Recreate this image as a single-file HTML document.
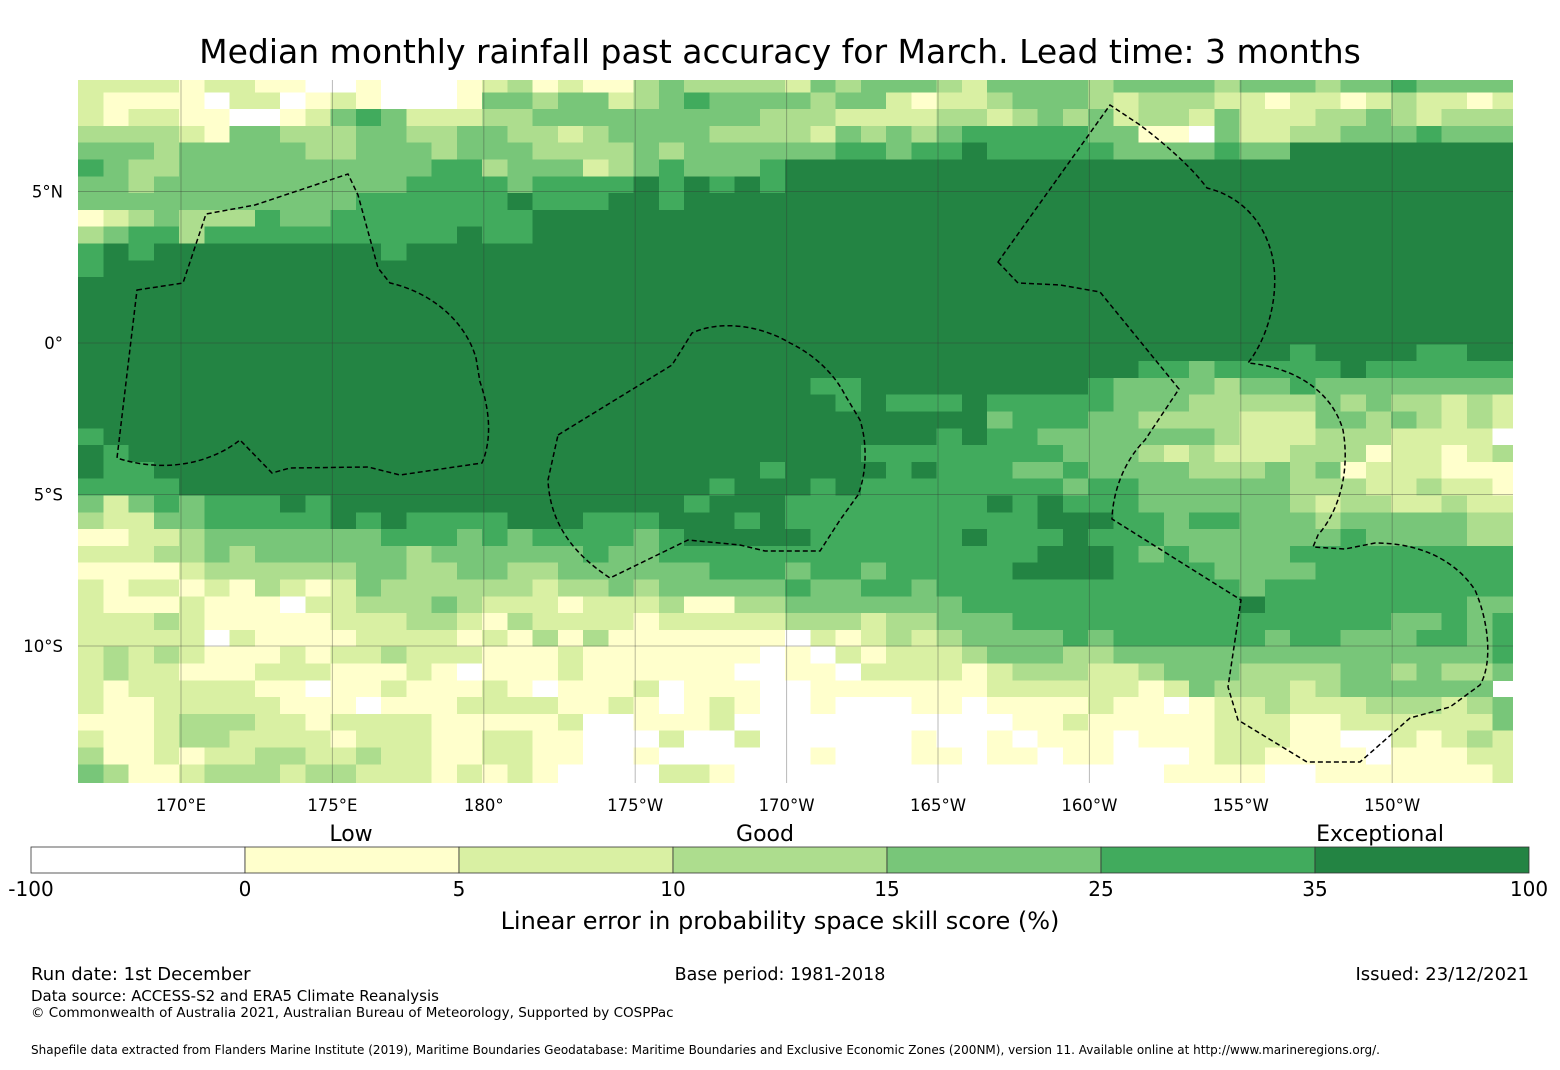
<!DOCTYPE html>
<html><head><meta charset="utf-8">
<style>
body{margin:0;background:#fff;width:1560px;height:1065px;overflow:hidden;font-family:"Liberation Sans","DejaVu Sans",sans-serif;}
svg text{font-family:"DejaVu Sans","Liberation Sans",sans-serif;}
</style></head>
<body>
<svg id="fig" width="1560" height="1065" viewBox="0 0 1560 1065" xmlns="http://www.w3.org/2000/svg">
<defs><clipPath id="mapclip"><rect x="78" y="80" width="1435" height="703"/></clipPath></defs>
<text x="780" y="63" text-anchor="middle" font-size="33" fill="#000">Median monthly rainfall past accuracy for March. Lead time: 3 months</text>
<g id="cells" clip-path="url(#mapclip)" shape-rendering="crispEdges"></g>
<g id="grid" clip-path="url(#mapclip)"></g>
<g id="eez" clip-path="url(#mapclip)" fill="none" stroke="#000" stroke-width="1.5" stroke-dasharray="5,3">
<path d="M137,290 L183,283 L206,214 L255,205 L348,174 L358,195 L378,268 L390,283 C430,292 465,320 476,358 L480,382 C490,410 492,440 482,463 L400,475 L368,467 L290,468 L272,473 L240,440 C215,460 170,475 117,458 Z"/>
<path d="M558,435 L672,365 L692,333 C720,320 760,325 790,343 C815,355 835,375 845,395 L860,420 C868,445 866,475 858,495 L840,520 L820,551 L765,551 L740,545 L688,540 L610,578 C575,555 550,525 548,480 Z"/>
<path d="M998,262 L1018,283 L1060,285 L1100,292 L1179,389 L1145,440 C1125,460 1113,490 1112,519 L1241,600 L1228,687 L1238,720 L1307,762 L1360,762 L1410,718 L1450,707 L1480,685 C1492,665 1490,625 1475,590 C1455,560 1420,543 1375,543 L1345,549 L1313,547 L1318,535 C1340,510 1350,470 1343,430 C1333,395 1300,368 1248,363 C1270,335 1280,290 1272,255 C1262,215 1235,195 1207,188 C1190,165 1160,140 1140,125 L1110,105 Z"/>
</g>
<g id="ticks" font-size="16.5" fill="#000"></g>
<g id="cbar"></g>
<text x="351" y="841" text-anchor="middle" font-size="22">Low</text>
<text x="765" y="841" text-anchor="middle" font-size="22">Good</text>
<text x="1380" y="841" text-anchor="middle" font-size="22">Exceptional</text>
<text x="780" y="929" text-anchor="middle" font-size="24">Linear error in probability space skill score (%)</text>
<text x="31" y="980" font-size="18">Run date: 1st December</text>
<text x="780" y="980" text-anchor="middle" font-size="17.5">Base period: 1981-2018</text>
<text x="1529" y="980" text-anchor="end" font-size="18">Issued: 23/12/2021</text>
<text x="31" y="1001" font-size="15">Data source: ACCESS-S2 and ERA5 Climate Reanalysis</text>
<text x="31" y="1017" font-size="13.5">© Commonwealth of Australia 2021, Australian Bureau of Meteorology, Supported by COSPPac</text>
<text x="31" y="1054" font-size="12">Shapefile data extracted from Flanders Marine Institute (2019), Maritime Boundaries Geodatabase: Maritime Boundaries and Exclusive Economic Zones (200NM), version 11. Available online at http://www.marineregions.org/.</text>
</svg>
<script>
const lonTicks=[170,175,180,185,190,195,200,205,210];
const lonLabels=["170°E","175°E","180°","175°W","170°W","165°W","160°W","155°W","150°W"];
const latTicks=[5,0,-5,-10];
const latLabels=["5°N","0°","5°S","10°S"];
const cbarBounds=[-100,0,5,10,15,25,35,100];
const cbarColors=["#ffffff","#ffffcc","#d9f0a3","#addd8e","#78c679","#41ab5d","#238443"];
const gridLon0=166.60, gridLat0=8.83, cellLon=0.834, cellLat=0.5545;
const s6=n=>"6".repeat(n);
const skillRows=[
"2222122110010001231211343333"+"24344432444434444344434454444",
"2111102201210001443442345444"+"43442122344432333221221232212",
"2122110012454222334444444443"+"33222233234342332422233432333",
"3333214433344334433234444333"+"32434345555544110422334445444",
"4443444443344434443333434444"+"44554556555554444544666666666",
"5433444444444455344423454445"+s6(29),
"4434444444444555545555656565"+s6(29),
"44444444444"+"555555"+"6"+"555"+"66"+"5"+"6666"+s6(29),
"1234333544"+"55555555"+"6666666666"+s6(29),
"3455"+"3"+"5555555555"+"6"+"55"+"6666666666"+s6(29),
"565"+"666666666"+"5"+"666666666666666"+s6(29),
"5"+s6(56),
s6(57),s6(57),s6(57),s6(57),
s6(48)+"5"+"6666"+"55"+"66",
s6(42)+"554"+"55555"+"6"+"555555",
s6(29)+"55"+"666666666"+"5"+"4444"+"3"+"44"+"5"+"44444444",
s6(30)+"5"+"6"+"555"+"6"+"55555"+"444"+"33333"+"4"+"3"+"4"+"33"+"2"+"3"+"2",
s6(36)+"4"+"555"+"44"+"3333"+"222"+"44"+"3"+"4"+"3"+"2"+"3"+"2",
"5"+s6(33)+"5"+"6"+"55"+"4444444"+"3"+"222"+"333"+"2222"+"0",
"65"+s6(29)+"55555555"+"444"+"3"+"2"+"3"+"222"+"333"+"1"+"22"+"1"+"2"+"3",
"655"+s6(24)+"5"+"6666"+"5"+"6"+"555"+"44"+"5"+"4444"+"333"+"4"+"3"+"4"+"1"+"222"+"111",
"5555"+s6(21)+"5"+"666"+"5"+"6"+"55555555"+"4"+"55"+"444444"+"333"+"22"+"3"+"22"+"1",
"42454555"+"6"+"5"+s6(14)+"5"+"666"+"55555555"+"6"+"5"+"6"+"555"+"444444"+"3"+"2"+"33"+"22"+"3"+"22",
"3"+"22"+"44"+"55555"+"6"+"5"+"6"+"5555"+"666"+"555"+"666"+"5"+"6"+"5555555555"+"666"+"55"+"4"+"55"+"444"+"3"+"44444"+"33",
"11"+"22"+"3"+"4444444"+"555"+"4"+"5"+"4"+"5555"+"4"+"5"+"6666"+"6"+"555555"+"6"+"555"+"6"+"555"+"4444444"+"5"+"4444"+"33",
"222"+"33"+"4"+"3"+"444444"+"3"+"444444"+"5"+"44"+"55555"+"5555555555"+"666"+"5"+"4"+"5"+"4444"+"555555555",
"1111"+"2"+"333333"+"44"+"33"+"44"+"33"+"444444"+"555"+"4"+"55"+"4"+"55555"+"6666"+"5555"+"4444"+"55555555",
"2"+"1"+"22"+"1"+"2"+"1"+"3"+"2"+"1"+"2"+"4"+"333333"+"2"+"33"+"4"+"3"+"44444"+"5"+"44"+"55"+"4"+"555555555555"+"4"+"5555555555",
"2"+"111"+"2"+"111"+"0"+"22"+"333"+"4"+"3"+"222"+"1"+"222"+"3"+"11"+"33"+"4444444"+"55555555555"+"6"+"55555555"+"44",
"222"+"3"+"2"+"11111"+"222"+"33"+"2"+"1"+"3"+"2222"+"1"+"22222"+"333"+"2"+"33"+"444"+"555555555555555"+"44"+"5"+"4"+"5",
"22222"+"0"+"2"+"1111"+"2222"+"1"+"2"+"1"+"3"+"1"+"3"+"1111111"+"0"+"2"+"1"+"2"+"3"+"2"+"3"+"4444"+"5"+"4"+"555555"+"4"+"55"+"444"+"55"+"4"+"5",
"2"+"3"+"2"+"3"+"2"+"111"+"2"+"1"+"22"+"3"+"222"+"111"+"2"+"1111111"+"0"+"1"+"0"+"2"+"1"+"222"+"3"+"444"+"33"+"444444444444444"+"5",
"2"+"3"+"22"+"111"+"222"+"111"+"2"+"1"+"0"+"111"+"2"+"111111"+"00"+"11"+"0"+"2222"+"1"+"2"+"333"+"22"+"3"+"444"+"3333"+"44"+"3"+"4"+"33"+"4",
"2"+"1"+"22222"+"11"+"0"+"11"+"2"+"111"+"2"+"1"+"0"+"111"+"2"+"0"+"111"+"0"+"0"+"1111111"+"222222"+"1"+"2"+"4"+"333"+"2"+"3"+"444444",
"2"+"11"+"22222"+"111"+"0"+"111"+"2222"+"11"+"2"+"1"+"0"+"1"+"2"+"1"+"0"+"0"+"1"+"000"+"11"+"0"+"1111"+"2"+"11"+"0"+"1"+"22"+"3"+"222"+"333"+"2"+"3"+"4",
"111"+"2"+"333"+"22"+"1"+"2222"+"11111"+"2"+"00"+"111"+"2"+"00"+"000000000"+"11"+"2"+"11111"+"222"+"11"+"222222"+"4",
"2"+"11"+"2"+"33"+"2222"+"1"+"222"+"11"+"22"+"11"+"000"+"2"+"00"+"2"+"0"+"00000"+"1"+"00"+"1"+"0"+"111"+"0"+"111"+"222"+"11"+"00"+"2"+"1"+"2"+"3"+"2",
"3"+"11"+"2"+"1"+"22"+"33"+"22"+"3"+"22"+"11"+"22"+"11"+"00"+"1"+"00000"+"0"+"1"+"000"+"11"+"0"+"11"+"0"+"11"+"000"+"1"+"22"+"1111"+"0"+"111"+"22",
"4"+"3"+"11"+"2"+"333"+"2"+"33"+"222"+"1"+"2"+"1"+"2"+"1"+"0000"+"22"+"1"+"00"+"000000000000000"+"1111"+"00"+"1111111"+"2",
"4"+"3"+"11"+"2"+"333"+"2"+"33"+"222"+"1"+"2"+"1"+"2"+"1"+"0000"+"22"+"1"+"00"+"000000000000000"+"1111"+"00"+"1111111"+"2"
];
const NS="http://www.w3.org/2000/svg";
const xOf=lon=>181+(lon-170)*30.28;
const yOf=lat=>343-lat*30.3;
const cbX=v=>{const i=cbarBounds.indexOf(v);return 31+i*214;};
function mk(tag,attrs,parent){const e=document.createElementNS(NS,tag);for(const k in attrs)e.setAttribute(k,attrs[k]);parent.appendChild(e);return e;}
const cells=document.getElementById('cells');
skillRows.forEach((row,r)=>{
  for(let c=0;c<row.length;c++){
    const k=+row[c];
    const x0=xOf(gridLon0+c*cellLon), x1=xOf(gridLon0+(c+1)*cellLon);
    const y0=yOf(gridLat0-r*cellLat), y1=yOf(gridLat0-(r+1)*cellLat);
    const el=mk('rect',{x:x0.toFixed(2),y:y0.toFixed(2),width:(x1-x0+0.6).toFixed(2),height:(y1-y0+0.6).toFixed(2),fill:cbarColors[k]},cells);
    
    
  }
});
const grid=document.getElementById('grid'), ticks=document.getElementById('ticks');
lonTicks.forEach((lon,i)=>{
  const x=xOf(lon);
  const l=mk('line',{x1:x,y1:80,x2:x,y2:783,stroke:'#333','stroke-opacity':0.35,'stroke-width':1},grid);
  
  
  const t=mk('text',{x:x,y:811,'text-anchor':'middle'},ticks);
  t.textContent=lonLabels[i];
  
  
});
latTicks.forEach((lat,i)=>{
  const y=yOf(lat);
  const l=mk('line',{x1:78,y1:y,x2:1513,y2:y,stroke:'#333','stroke-opacity':0.35,'stroke-width':1},grid);
  
  
  const t=mk('text',{x:63,y:y+6,'text-anchor':'end'},ticks);
  t.textContent=latLabels[i];
  
  
});
const cbar=document.getElementById('cbar');
for(let i=0;i<cbarColors.length;i++){
  const x0=cbX(cbarBounds[i]), x1=cbX(cbarBounds[i+1]);
  const r=mk('rect',{x:x0,y:847,width:x1-x0,height:26,fill:cbarColors[i],stroke:'#333','stroke-width':0.8},cbar);
  
  
}
cbarBounds.forEach(v=>{
  const t=mk('text',{x:cbX(v),y:896,'text-anchor':'middle','font-size':20},cbar);
  t.textContent=String(v);
  
  
});
</script>
</body></html>
